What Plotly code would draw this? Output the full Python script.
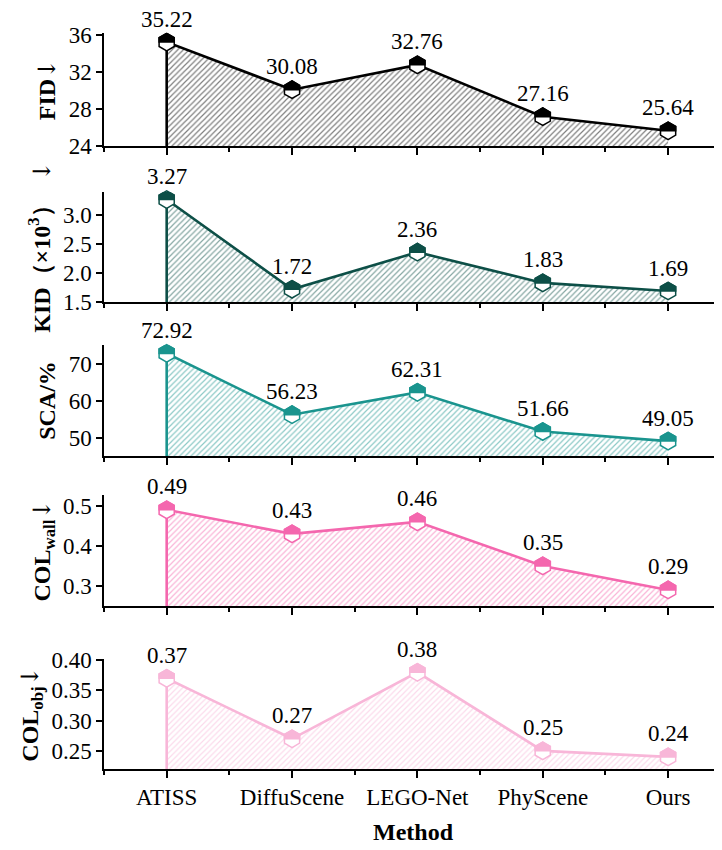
import plotly.graph_objects as go
import math

methods = ["ATISS", "DiffuScene", "LEGO-Net", "PhyScene", "Ours"]
fid = [35.22, 30.08, 32.76, 27.16, 25.64]
kid = [3.27, 1.72, 2.36, 1.83, 1.69]
sca = [72.92, 56.23, 62.31, 51.66, 49.05]
col_wall = [0.49, 0.43, 0.46, 0.35, 0.29]
col_obj = [0.37, 0.27, 0.38, 0.25, 0.24]

ARROW = '<span style="font-family:DejaVu Serif;font-weight:normal">↓</span>'
panels = [
    dict(vals=fid, title="<b>FID</b>" + ARROW, color="#000000", rng=[24, 36.2],
         tickvals=[24, 28, 32, 36], fmt="{:.2f}", tfmt="d"),
    dict(vals=kid, title="<b>KID（×10<sup>3</sup>）</b>&nbsp;&nbsp;" + ARROW, color="#0d4f47",
         rng=[1.5, 3.4], tickvals=[1.5, 2.0, 2.5, 3.0], fmt="{:.2f}", tfmt=".1f"),
    dict(vals=sca, title="<b>SCA/%</b>", color="#1a948e", rng=[45, 75.2],
         tickvals=[50, 60, 70], fmt="{:.2f}", tfmt="d"),
    dict(vals=col_wall, title="<b>COL<sub>wall</sub></b>" + ARROW, color="#f467ae",
         rng=[0.25, 0.527], tickvals=[0.3, 0.4, 0.5], fmt="{:.2f}", tfmt=".1f"),
    dict(vals=col_obj, title="<b>COL<sub>obj</sub></b>" + ARROW, color="#f8b6d8",
         rng=[0.22, 0.402], tickvals=[0.25, 0.30, 0.35, 0.40], fmt="{:.2f}", tfmt=".2f"),
]

# page body has an 8px margin; figure is sized/positioned to compensate
OFF = 8
W, H = 722 - OFF, 850 - OFF
pix = [(33, 146), (192, 302), (345, 456), (495, 606), (659, 769)]
FONT = "Times New Roman, Liberation Serif, Times, serif"
xs = list(range(len(methods)))

fig = go.Figure()
shapes = []
annotations = []
layout = {}
msize = 17.5
r = msize / 2
re = r * math.sqrt(3) / 2
rh = r / 2
half_path = f"M{-re:.2f},0 L{-re:.2f},{rh:.2f} L0,{r:.2f} L{re:.2f},{rh:.2f} L{re:.2f},0 Z"

for i, p in enumerate(panels):
    n = i + 1
    xa = "x" if n == 1 else f"x{n}"
    ya = "y" if n == 1 else f"y{n}"
    col = p["color"]
    ymin = p["rng"][0]
    fig.add_trace(go.Scatter(
        x=[xs[0]] + xs, y=[ymin] + p["vals"], xaxis=xa, yaxis=ya,
        mode="lines", line=dict(color=col, width=2.6),
        fill="tozeroy", fillcolor="rgba(0,0,0,0)",
        fillpattern=dict(shape="/", fgcolor=col, bgcolor="rgba(255,255,255,0)",
                         size=4, solidity=0.3),
        showlegend=False, hoverinfo="skip"))
    fig.add_trace(go.Scatter(
        x=xs, y=p["vals"], xaxis=xa, yaxis=ya, mode="markers",
        marker=dict(symbol="hexagon", size=msize, color="white",
                    line=dict(color=col, width=1.5)),
        showlegend=False, cliponaxis=False))
    for xv, yv in zip(xs, p["vals"]):
        shapes.append(dict(type="path", xref=xa, yref=ya, xsizemode="pixel",
                           ysizemode="pixel", xanchor=xv, yanchor=yv,
                           path=half_path, fillcolor=col,
                           line=dict(color=col, width=1.5), layer="above"))
        annotations.append(dict(x=xv, y=yv, xref=xa, yref=ya, text=p["fmt"].format(yv),
                                showarrow=False, yshift=23,
                                font=dict(family=FONT, size=23, color="black")))
    top, bot = pix[i]
    dom = [1 - (bot - OFF) / H, 1 - (top - OFF) / H]
    xkey = "xaxis" if n == 1 else f"xaxis{n}"
    ykey = "yaxis" if n == 1 else f"yaxis{n}"
    layout[xkey] = dict(
        domain=[0, 1], anchor=ya, range=[-0.5, 4.43], tickmode="array",
        tickvals=xs, ticktext=methods, showticklabels=(n == 5),
        ticks="outside", ticklen=7, tickwidth=1.5, tickcolor="black",
        minor=dict(tickmode="array", tickvals=[-0.5, 0.5, 1.5, 2.5, 3.5],
                   ticks="outside", ticklen=4, tickwidth=1.5, tickcolor="black", showgrid=False),
        showline=True, linecolor="black", linewidth=1.5, showgrid=False, zeroline=False,
        automargin=False,
        tickfont=dict(family=FONT, size=23, color="black"),
    )
    if n == 5:
        layout[xkey]["title"] = dict(text="<b>Method</b>", standoff=14,
                                     font=dict(family=FONT, size=24, color="black"))
    layout[ykey] = dict(
        domain=dom, anchor=xa, range=p["rng"], tickmode="array", tickvals=p["tickvals"],
        tickformat=p["tfmt"], ticks="outside", ticklen=6, tickwidth=1.5, tickcolor="black",
        showline=True, linecolor="black", linewidth=1.5, showgrid=False, zeroline=False,
        automargin=False,
        tickfont=dict(family=FONT, size=23, color="black"),
        title=dict(text=p["title"], standoff=6, font=dict(family=FONT, size=24, color="black")),
    )

fig.update_layout(
    width=W, height=H, paper_bgcolor="white", plot_bgcolor="white",
    margin=dict(l=104 - OFF, r=0, t=0, b=0, autoexpand=False),
    shapes=shapes, annotations=annotations,
    font=dict(family=FONT, color="black"),
    **layout,
)
fig.write_html("out.html")
